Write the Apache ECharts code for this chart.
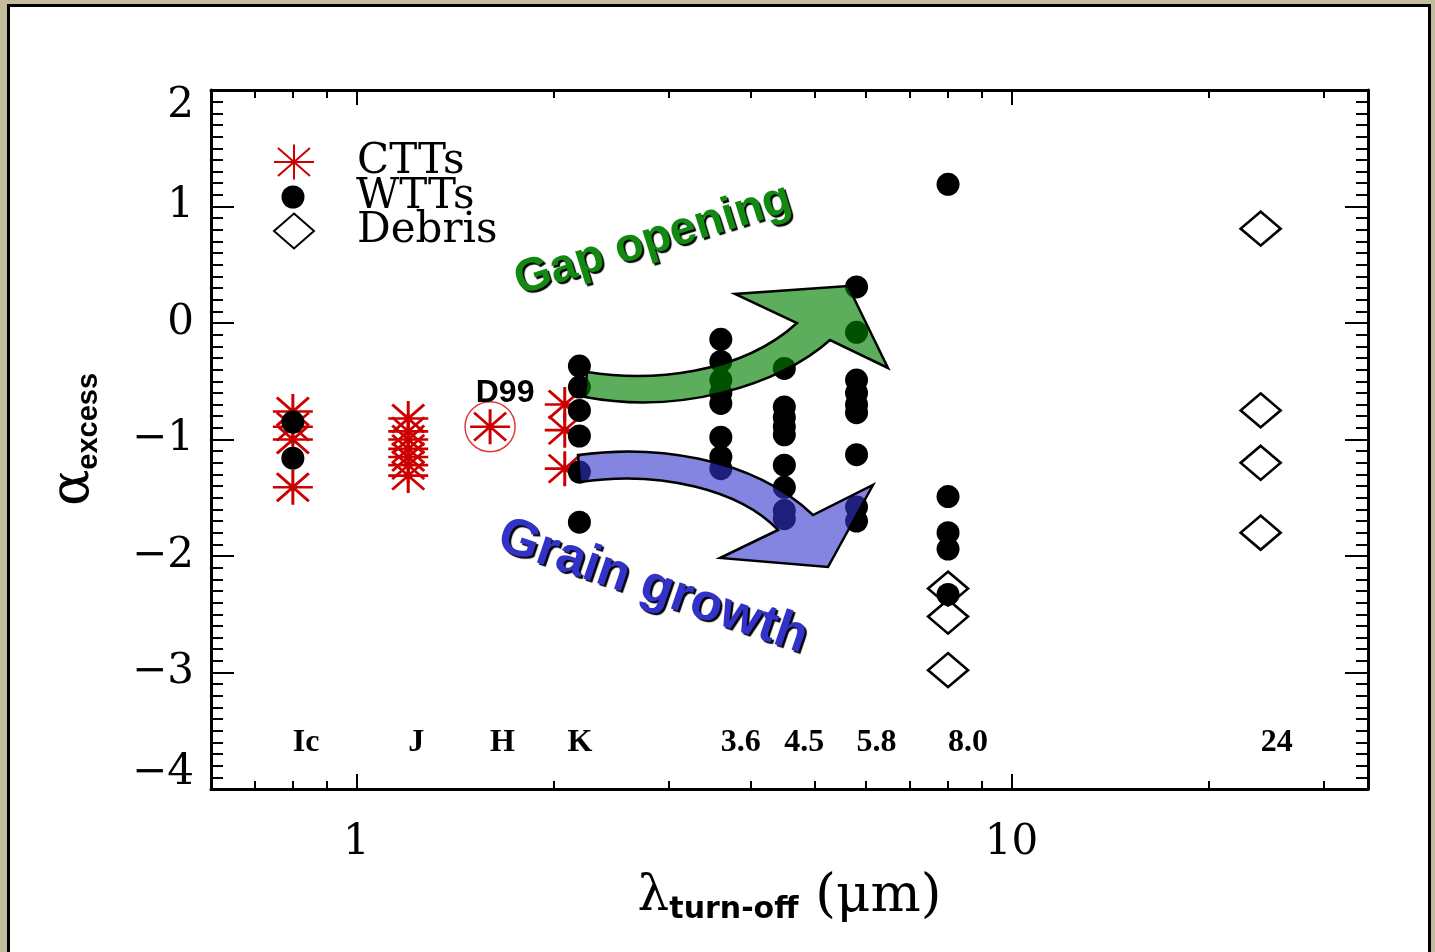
<!DOCTYPE html>
<html>
<head>
<meta charset="utf-8">
<script src="https://cdn.jsdelivr.net/npm/echarts@6/dist/echarts.min.js"></script>
<style>
  html, body { margin: 0; padding: 0; width: 1435px; height: 952px; overflow: hidden; background: #c3bd9d; }
  #frame { position: absolute; left: 7px; top: 4px; width: 1418px; height: 960px; background: #fff;
           border-left: 3px solid #000; border-top: 3px solid #000; border-right: 3px solid #000; }
  #chart { position: absolute; left: 0; top: 0; width: 1435px; height: 952px; }
</style>
</head>
<body>
<div id="frame"></div>
<div id="chart"></div>
<script>
// CTTs (red asterisks): [lambda, alpha]
var cttPoints = [
  [0.8, -0.76], [0.8, -0.89], [0.8, -1.0], [0.8, -1.41],
  [1.2, -0.82], [1.2, -0.93], [1.2, -1.0], [1.2, -1.08], [1.2, -1.15], [1.2, -1.22], [1.2, -1.31],
  [1.6, -0.89],
  [2.08, -0.70], [2.08, -0.92], [2.08, -1.25]
];
// WTTs (black dots)
var wttPoints = [
  [0.8, -0.85], [0.8, -1.16],
  [2.19, -0.37], [2.19, -0.55], [2.19, -0.75], [2.19, -0.97], [2.19, -1.28], [2.19, -1.71],
  [3.6, -0.14], [3.6, -0.33], [3.6, -0.49], [3.6, -0.6], [3.6, -0.69], [3.6, -0.98], [3.6, -1.15], [3.6, -1.25],
  [4.5, -0.39], [4.5, -0.72], [4.5, -0.81], [4.5, -0.89], [4.5, -0.96], [4.5, -1.22], [4.5, -1.41], [4.5, -1.61], [4.5, -1.68],
  [5.8, 0.31], [5.8, -0.08], [5.8, -0.49], [5.8, -0.6], [5.8, -0.7], [5.8, -0.77], [5.8, -1.13], [5.8, -1.58], [5.8, -1.7],
  [8.0, 1.19], [8.0, -1.49], [8.0, -1.8], [8.0, -1.94], [8.0, -2.33]
];
// Debris (open diamonds)
var debrisPoints = [
  [8.0, -2.28], [8.0, -2.52], [8.0, -2.98],
  [24, 0.81], [24, -0.75], [24, -1.2], [24, -1.8]
];
// the circled D99 source
var d99Point = [1.6, -0.89];

// band names written along the bottom of the plot
var bandNames = ['Ic', 'J', 'H', 'K', '3.6', '4.5', '5.8', '8.0', '24'];
var bandX = [0.8, 1.2, 1.6, 2.1, 3.6, 4.5, 5.8, 8.0, 24];
var bandY = -3.6;

// axis ticks
var xMajorTicks = [1, 10];
var xMinorTicks = [0.7, 0.8, 0.9, 2, 3, 4, 5, 6, 7, 8, 9, 20, 30];

// the two cartoon arrows (screen pixels, not data)
var gapArrow = 'M587,372 C650,382 740,375 797,323 L735,294 L848,286 L888,368 L830,340 C780,385 680,415 585,397 Z';
var grainArrow = 'M578,455 C650,445 750,455 813,515 L873,485 L828,567 L720,558 L778,530 C740,490 660,470 580,482 Z';

var asterisk = 'path://M-1,0L1,0M0,-0.875L0,0.875M-0.8,-0.7L0.8,0.7M-0.8,0.7L0.8,-0.7';
var serif = 'DejaVu Serif';
var sans = 'Liberation Sans';

var chart = echarts.init(document.getElementById('chart'));

var gridBox = { left: 211, right: 67, top: 90, bottom: 163 };

function xAxisOf(grid, pos, ticks, len, withLine) {
  return {
    type: 'log', logBase: 10, min: 0.6, max: 35, gridIndex: grid, position: pos,
    splitLine: { show: false },
    axisLine: { show: withLine, onZero: false, lineStyle: { color: '#000', width: 3 } },
    axisTick: { show: true, inside: true, length: len, customValues: ticks, lineStyle: { color: '#000', width: 2 } },
    axisLabel: { show: false }
  };
}

function yAxisOf(grid, pos, visible) {
  return {
    type: 'value', min: -4, max: 2, interval: 1, gridIndex: grid, position: pos, show: visible,
    splitLine: { show: false },
    axisLine: { show: true, onZero: false, lineStyle: { color: '#000', width: 3 } },
    axisTick: { inside: true, length: 23, lineStyle: { color: '#000', width: 2 } },
    minorTick: { show: true, splitNumber: 10, length: 12, lineStyle: { color: '#000', width: 2 } },
    axisLabel: { show: false }
  };
}

var xBottom = xAxisOf(0, 'bottom', xMajorTicks, 15, true);
xBottom.axisLabel = {
  show: true, customValues: xMajorTicks, margin: 33,
  fontFamily: serif, fontSize: 42, color: '#000',
  formatter: function (v) { return String(v); }
};
xBottom.name = '{l|λ}{s|turn-off}{p| (μm)}';
xBottom.nameLocation = 'middle';
xBottom.nameGap = 80;
xBottom.nameTextStyle = {
  rich: {
    l: { fontFamily: serif, fontSize: 50, color: '#000', lineHeight: 56 },
    s: { fontFamily: 'DejaVu Sans', fontWeight: 'bold', fontSize: 30, color: '#000', verticalAlign: 'bottom', lineHeight: 34 },
    p: { fontFamily: serif, fontSize: 53, color: '#000', lineHeight: 56 }
  }
};

var yLeft = yAxisOf(0, 'left', true);
yLeft.axisLabel = {
  show: true, margin: 17, fontFamily: serif, fontSize: 42, color: '#000', lineHeight: 32,
  verticalAlignMinLabel: 'bottom', verticalAlignMaxLabel: 'top',
  formatter: function (v) { return v < 0 ? '\u2212' + Math.abs(v) : String(v); }
};
yLeft.name = '{a|α}{s|excess}';
yLeft.nameLocation = 'middle';
yLeft.nameRotate = 90;
yLeft.nameGap = 108;
yLeft.nameTextStyle = {
  rich: {
    a: { fontFamily: serif, fontSize: 54, color: '#000', lineHeight: 58 },
    s: { fontFamily: sans, fontWeight: 'bold', fontSize: 29, color: '#000', verticalAlign: 'bottom', lineHeight: 38 }
  }
};

function legendRow(name, top, w, h) {
  return {
    data: [name], left: 293 - w / 2, top: top, orient: 'vertical', padding: 0,
    itemWidth: w, itemHeight: h, selectedMode: false,
    textStyle: { fontFamily: serif, fontSize: 42, color: '#000', lineHeight: 36, padding: [0, 0, 0, 356 - (293 + w / 2) - 5] }
  };
}

function arrowItem(pathData, fill) {
  return { type: 'path', shape: { pathData: pathData }, style: { fill: fill, stroke: '#000', lineWidth: 2.5 } };
}

var option = {
  animation: false,
  grid: [Object.assign({}, gridBox), Object.assign({}, gridBox)],
  xAxis: [
    xBottom,
    xAxisOf(0, 'top', xMajorTicks, 15, true),
    xAxisOf(1, 'bottom', xMinorTicks, 8, false),
    xAxisOf(1, 'top', xMinorTicks, 8, false)
  ],
  yAxis: [
    yLeft,
    yAxisOf(0, 'right', true),
    yAxisOf(1, 'left', false)
  ],
  legend: [
    legendRow('CTTs', 141, 40, 36),
    legendRow('WTTs', 176, 23, 23),
    legendRow('Debris', 210, 40, 35)
  ],
  series: [
    {
      name: 'CTTs', type: 'scatter', xAxisIndex: 0, yAxisIndex: 0, silent: true,
      symbol: asterisk, symbolSize: [40, 35],
      itemStyle: { color: 'rgba(0,0,0,0)', borderColor: '#cc0000', borderWidth: 2.8, opacity: 1 },
      data: cttPoints
    },
    {
      name: 'WTTs', type: 'scatter', xAxisIndex: 0, yAxisIndex: 0, silent: true,
      symbol: 'circle', symbolSize: 23,
      itemStyle: { color: '#000', opacity: 1 },
      data: wttPoints
    },
    {
      name: 'Debris', type: 'scatter', xAxisIndex: 0, yAxisIndex: 0, silent: true,
      symbol: 'diamond', symbolSize: [40, 34],
      itemStyle: { color: 'rgba(0,0,0,0)', borderColor: '#000', borderWidth: 2.6, opacity: 1 },
      data: debrisPoints
    },
    {
      name: 'D99', type: 'scatter', xAxisIndex: 0, yAxisIndex: 0, silent: true,
      symbol: 'circle', symbolSize: 50,
      itemStyle: { color: 'rgba(0,0,0,0)', borderColor: '#e03c3c', borderWidth: 1.5, opacity: 1 },
      label: {
        show: true, position: 'inside', offset: [15, -34], formatter: 'D99',
        fontFamily: sans, fontWeight: 'bold', fontSize: 32, color: '#000'
      },
      data: [d99Point]
    },
    {
      name: 'bands', type: 'scatter', xAxisIndex: 0, yAxisIndex: 0, silent: true,
      symbolSize: 0, itemStyle: { opacity: 1 },
      label: {
        show: true, position: 'right', distance: 0,
        fontFamily: 'Liberation Serif', fontWeight: 'bold', fontSize: 32, color: '#000',
        formatter: function (p) { return p.name; }
      },
      data: bandNames.map(function (n, i) { return { name: n, value: [bandX[i], bandY] }; })
    },
    {
      name: 'arrows', type: 'custom', xAxisIndex: 0, yAxisIndex: 0, silent: true, z: 10,
      data: [0],
      renderItem: function () {
        return {
          type: 'group',
          children: [
            arrowItem(gapArrow, 'rgba(0,128,0,0.64)'),
            arrowItem(grainArrow, 'rgba(50,50,205,0.6)')
          ]
        };
      }
    }
  ],
  graphic: [
    {
      type: 'text', z: 101, x: 653, y: 240, rotation: 0.30,
      style: {
        text: 'Gap opening', font: 'bold 47px "Liberation Sans"', fill: '#128a12',
        align: 'center', verticalAlign: 'middle',
        textShadowColor: '#000', textShadowOffsetX: 2, textShadowOffsetY: 2, textShadowBlur: 1
      }
    },
    {
      type: 'text', z: 101, x: 653, y: 587, rotation: -0.33,
      style: {
        text: 'Grain growth', font: 'bold 52px "Liberation Sans"', fill: '#3232c8',
        align: 'center', verticalAlign: 'middle',
        textShadowColor: '#000', textShadowOffsetX: 2, textShadowOffsetY: 2, textShadowBlur: 1
      }
    }
  ]
};

chart.setOption(option);
</script>
</body>
</html>
